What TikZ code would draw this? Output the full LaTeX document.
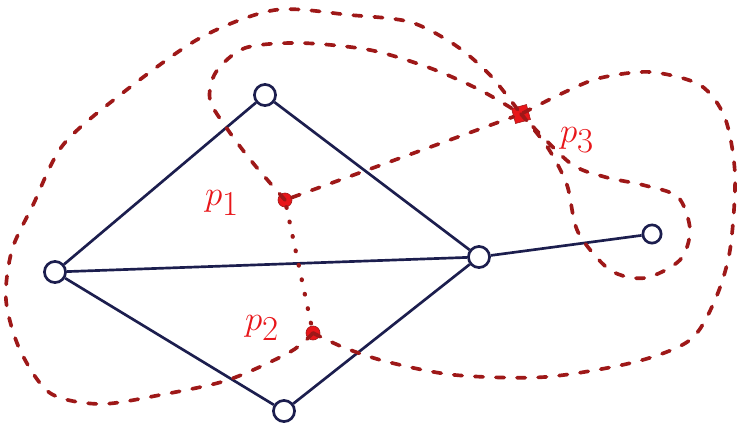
\documentclass[tikz,border=0pt]{standalone}
\usetikzlibrary{positioning}
\definecolor{primal}{RGB}{28,30,78}
\definecolor{dualred}{RGB}{158,24,24}
\definecolor{dualfill}{RGB}{232,22,26}

\begin{document}
\begin{tikzpicture}[
x=0.025cm, y=-0.025cm,
vert/.style={
draw=primal,
circle,
line width=1.9pt,
minimum size=15pt,
inner sep=0pt
},
edge/.style={draw=primal, line width=1.9pt},
face/.style={fill=dualfill, draw=dualred, circle, minimum size=10pt, inner sep=0pt},
dualdash/.style={draw=dualred, line width=2.6pt, line cap=round, dash pattern=on 6pt off 9pt},
dualdot/.style={draw=dualred, line width=3pt, line cap=round, dash pattern=on 0.5pt off 10pt},
facelabel/.style={text=dualfill, font=\fontsize{34}{34}\selectfont}
]
\useasboundingbox (0,0) rectangle (739,428);

% primal graph
\node[vert] (a) at (55,272)  {};
\node[vert] (b) at (265,95)  {};
\node[vert] (c) at (479,257) {};
\node[vert] (d) at (284,411) {};
\node[vert, minimum size=13pt] (e) at (652,234) {};

\draw[edge] (a) -- (b);
\draw[edge] (b) -- (c);
\draw[edge] (a) -- (c);
\draw[edge] (a) -- (d);
\draw[edge] (d) -- (c);
\draw[edge] (c) -- (e);

% faces
\node[face] (p1) at (285,200) {};
\node[face] (p2) at (313,333) {};
\node[face, rectangle, rotate=15, minimum size=11pt] (p3) at (521,114) {};

\node[facelabel] (l1) at (222,203) {$p_1$};
\node[facelabel] (l2) at (262,328) {$p_2$};
\node[facelabel] (l3) at (577,140) {$p_3$};

% dual edges
\draw[dualdash] (p1) -- (p3);
\draw[dualdot] (p1) -- (p2);
\draw[dualdash] plot[smooth] coordinates {(p1) (253,163) (228,130) (210,100) (216,72) (245,48) (300,43) (370,50) (430,68) (480,90) (p3)};
\draw[dualdash] plot[smooth] coordinates {(p2) (290,352) (228,380) (160,395) (100,404) (50,393) (20,350) (6,300) (12,250) (33,205) (63,145) (120,95) (200,38) (275,10) (350,15) (410,22) (455,45) (490,75) (p3)};
\draw[dualdash] plot[smooth] coordinates {(p2) (345,348) (388,362) (455,375) (545,377) (635,362) (690,340) (715,300) (730,250) (735,175) (725,118) (700,85) (650,72) (600,78) (565,92) (p3)};
\draw[dualdash] plot[smooth] coordinates {(p3) (548,148) (567,185) (578,232) (610,270) (645,278) (680,260) (690,230) (678,197) (643,185) (605,177) (570,163) (p3)};

\end{tikzpicture}
\end{document}
